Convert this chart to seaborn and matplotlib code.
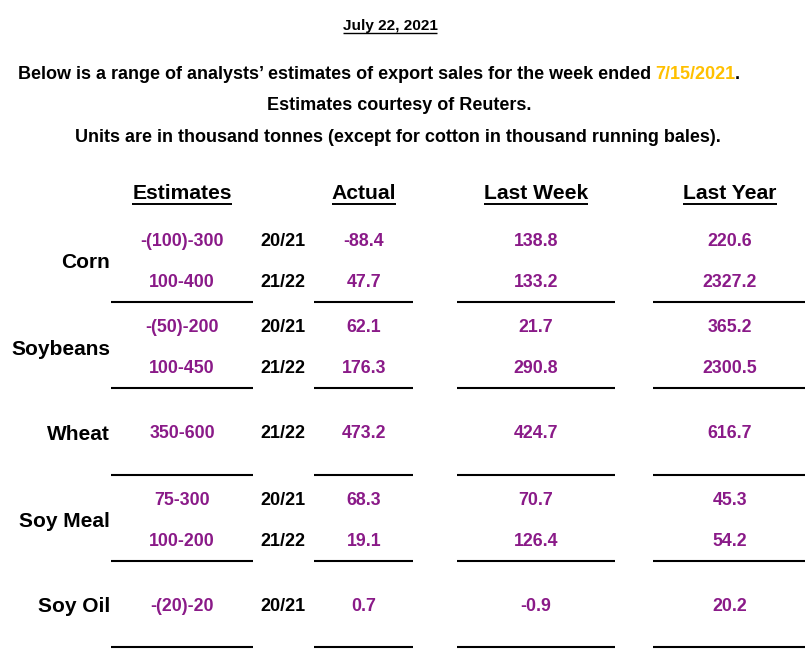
import numpy as np
import pandas as pd
import seaborn as sns
import matplotlib.pyplot as plt

sns.set_theme(style="white")
plt.rcParams["font.family"] = ["Liberation Sans", "DejaVu Sans"]
plt.rcParams["text.color"] = "black"

report_date = "July 22, 2021"
week_ended = "7/15/2021"
commodities = ["Corn", "Soybeans", "Wheat", "Soy Meal", "Soy Oil"]
row_commodity = ["Corn", "Corn", "Soybeans", "Soybeans", "Wheat",
                 "Soy Meal", "Soy Meal", "Soy Oil"]
marketing_years = ["20/21", "21/22", "20/21", "21/22", "21/22",
                   "20/21", "21/22", "20/21"]
estimates = ["-(100)-300", "100-400", "-(50)-200", "100-450", "350-600",
             "75-300", "100-200", "-(20)-20"]
actual = [-88.4, 47.7, 62.1, 176.3, 473.2, 68.3, 19.1, 0.7]
last_week = [138.8, 133.2, 21.7, 290.8, 424.7, 70.7, 126.4, -0.9]
last_year = [220.6, 2327.2, 365.2, 2300.5, 616.7, 45.3, 54.2, 20.2]

df = pd.DataFrame({"Commodity": row_commodity, "Year": marketing_years,
                   "Estimates": estimates, "Actual": actual,
                   "Last Week": last_week, "Last Year": last_year})

PURPLE = "#8a1a88"
GOLD = "#ffc000"
col_x = {"Estimates": 182, "Year": 283, "Actual": 364, "Last Week": 536, "Last Year": 730}
line_spans = [(111, 253), (314, 413), (457, 615), (653, 805)]

fig = plt.figure(figsize=(8.07, 6.57), dpi=100)
ax = fig.add_axes([0, 0, 1, 1])
ax.set_xlim(0, 807)
ax.set_ylim(657, 0)
ax.axis("off")
renderer = fig.canvas.get_renderer()
inv = ax.transData.inverted()


def x_extent(t):
    bb = t.get_window_extent(renderer)
    (x0, _), (x1, _) = inv.transform([[bb.x0, bb.y0], [bb.x1, bb.y1]])
    return x0, x1


def underline(t, y, lw=1.1):
    x0, x1 = x_extent(t)
    ax.hlines(y, x0, x1, color="black", lw=lw)


# heading
t = ax.text(390, 30, report_date, ha="center", va="baseline", fontsize=11.1, fontweight="bold")
underline(t, 32.5, lw=1.0)

t1 = ax.text(18, 79, "Below is a range of analysts\u2019 estimates of export sales for the week ended",
             ha="left", va="baseline", fontsize=13.0, fontweight="bold")
x_end = x_extent(t1)[1] + 4
t2 = ax.text(x_end, 79, week_ended, ha="left", va="baseline", fontsize=13.0,
             fontweight="bold", color=GOLD)
ax.text(x_extent(t2)[1], 79, ".", ha="left", va="baseline", fontsize=13.0, fontweight="bold")
ax.text(399, 110, "Estimates courtesy of Reuters.", ha="center", va="baseline",
        fontsize=13.0, fontweight="bold")
ax.text(398, 142, "Units are in thousand tonnes (except for cotton in thousand running bales).",
        ha="center", va="baseline", fontsize=13.0, fontweight="bold")

# column headers
for name in ["Estimates", "Actual", "Last Week", "Last Year"]:
    t = ax.text(col_x[name], 199, name, ha="center", va="baseline", fontsize=15.2, fontweight="bold")
    underline(t, 203.5, lw=1.4)

# commodity groups
for i, name in enumerate(commodities):
    line_y = 302 + 86.25 * i
    sub = df[df["Commodity"] == name].reset_index(drop=True)
    if len(sub) == 2:
        ys = [line_y - 56, line_y - 15]
        label_y = sum(ys) / 2 + 2
    else:
        ys = [line_y - 36]
        label_y = ys[0] + 1
    ax.text(110, label_y, name, ha="right", va="baseline", fontsize=15, fontweight="bold")
    for y, (_, r) in zip(ys, sub.iterrows()):
        ax.text(col_x["Estimates"], y, r["Estimates"], ha="center", va="baseline",
                fontsize=12.8, fontweight="bold", color=PURPLE)
        ax.text(col_x["Year"], y, r["Year"], ha="center", va="baseline",
                fontsize=13.0, fontweight="bold", color="black")
        for col in ["Actual", "Last Week", "Last Year"]:
            ax.text(col_x[col], y, f"{r[col]:.1f}", ha="center", va="baseline",
                    fontsize=12.8, fontweight="bold", color=PURPLE)
    for x0, x1 in line_spans:
        ax.hlines(line_y, x0, x1, color="black", lw=1.5)

fig.savefig("out.png", dpi=100)
plt.close(fig)
